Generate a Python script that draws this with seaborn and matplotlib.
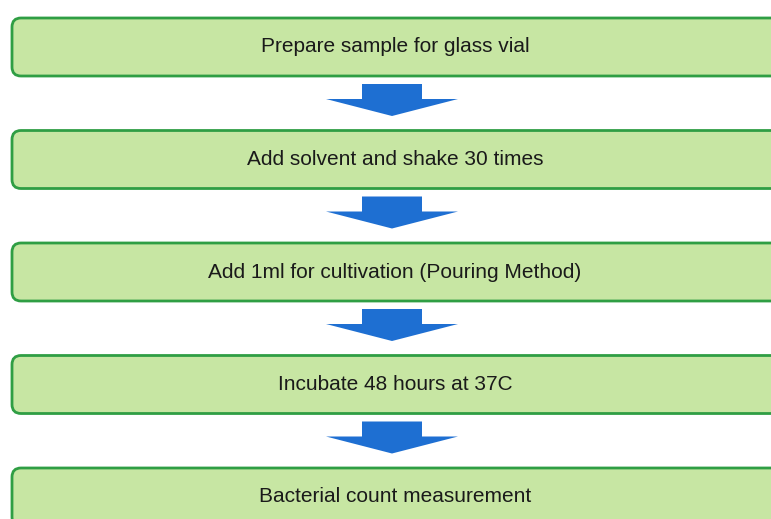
import matplotlib.pyplot as plt
import seaborn as sns
from matplotlib.patches import FancyBboxPatch, Polygon

sns.set_theme(style='white')
plt.rcParams['font.family'] = ['Liberation Sans', 'DejaVu Sans']

# Flow steps, top to bottom
steps = [
    'Prepare sample for glass vial',
    'Add solvent and shake 30 times',
    'Add 1ml for cultivation (Pouring Method)',
    'Incubate 48 hours at 37C',
    'Bacterial count measurement',
]

box_fill = '#c7e6a3'
box_edge = '#2f9e44'
arrow_color = '#1e6fd2'

fig = plt.figure(figsize=(7.71, 5.19), dpi=100)
ax = fig.add_axes([0, 0, 1, 1])
ax.set_xlim(0, 771)
ax.set_ylim(519, 0)
ax.axis('off')

step_gap = 112.5
first_center = 47
box_h = 58
box_left = 12
box_w = 800
text_x = 395
arrow_x = 392

for i, label in enumerate(steps):
    yc = first_center + i * step_gap
    box = FancyBboxPatch((box_left, yc - box_h / 2), box_w, box_h,
                         boxstyle='round,pad=0,rounding_size=9',
                         facecolor=box_fill, edgecolor=box_edge, linewidth=2)
    ax.add_patch(box)
    ax.text(text_x, yc, label, ha='center', va='center', fontsize=15,
            color='#1a1a1a')

    # arrow down to the next step
    if i < len(steps) - 1:
        top = yc + box_h / 2 + 8
        shaft_w, head_w = 30, 66
        shaft_h, head_h = 15, 17
        pts = [
            (arrow_x - shaft_w, top),
            (arrow_x + shaft_w, top),
            (arrow_x + shaft_w, top + shaft_h),
            (arrow_x + head_w, top + shaft_h),
            (arrow_x, top + shaft_h + head_h),
            (arrow_x - head_w, top + shaft_h),
            (arrow_x - shaft_w, top + shaft_h),
        ]
        ax.add_patch(Polygon(pts, closed=True, facecolor=arrow_color,
                             edgecolor='none'))

fig.savefig('out.png', dpi=100)
